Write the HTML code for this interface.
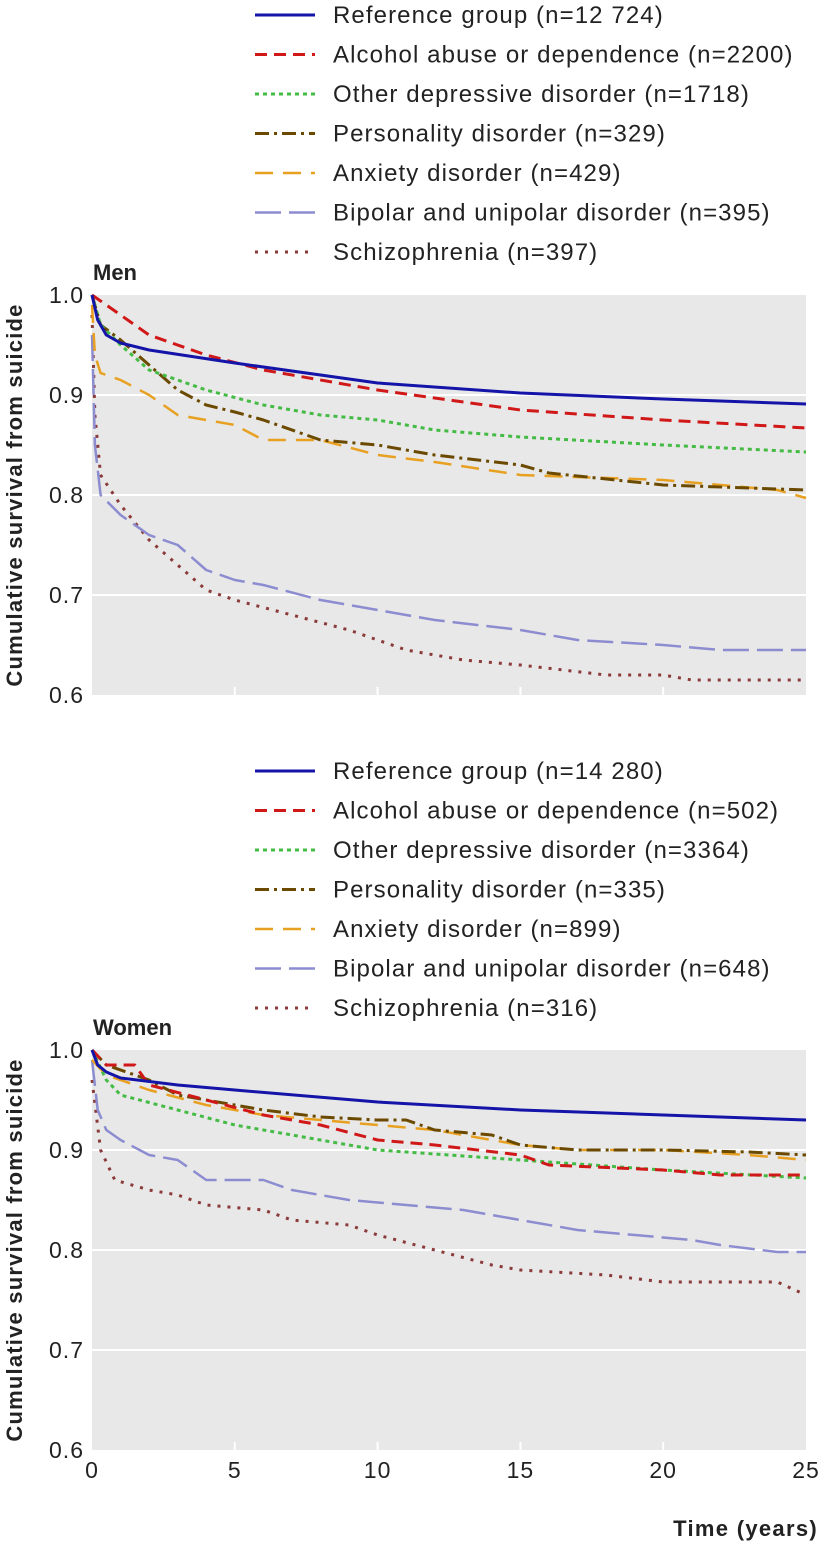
<!DOCTYPE html>
<html><head><meta charset="utf-8"><style>
html,body{margin:0;padding:0;background:#fff;}
svg text{font-family:"Liberation Sans",sans-serif;}
</style></head><body>
<svg id="chart" width="824" height="1544" viewBox="0 0 824 1544" xmlns="http://www.w3.org/2000/svg"></svg>
<script>
const seriesNames=["Reference group","Alcohol abuse or dependence","Other depressive disorder","Personality disorder","Anxiety disorder","Bipolar and unipolar disorder","Schizophrenia"];
const menN=["12 724","2200","1718","329","429","395","397"];
const womenN=["14 280","502","3364","335","899","648","316"];
const xTicks=[0,5,10,15,20,25];
const yTicks=[0.6,0.7,0.8,0.9,1.0];
const menRefX=[0,0.2,0.5,1,2,5,10,15,20,25];
const menRefY=[1.0,0.975,0.96,0.952,0.945,0.932,0.912,0.902,0.896,0.891];
const menAlcX=[0,0.5,2,4,6,10,15,20,25];
const menAlcY=[1.0,0.99,0.96,0.94,0.925,0.905,0.885,0.875,0.867];
const menDepX=[0,0.3,1,2,4,6,8,10,12,15,20,25];
const menDepY=[1.0,0.97,0.95,0.925,0.905,0.89,0.88,0.875,0.865,0.858,0.85,0.843];
const menPerX=[0,0.3,1,2,3,4,5,6,8,10,12,15,16,20,25];
const menPerY=[1.0,0.97,0.955,0.93,0.905,0.89,0.883,0.875,0.855,0.85,0.84,0.83,0.822,0.81,0.805];
const menAnxX=[0,0.1,0.3,1,2,3,5,6,8,10,12,15,20,24,25];
const menAnxY=[0.99,0.94,0.922,0.915,0.9,0.88,0.87,0.855,0.855,0.84,0.833,0.82,0.815,0.805,0.797];
const menBipX=[0,0.1,0.3,1,2,3,4,5,6,8,10,12,15,17,20,22,25];
const menBipY=[0.96,0.85,0.8,0.78,0.76,0.75,0.725,0.715,0.71,0.695,0.685,0.675,0.665,0.655,0.65,0.645,0.645];
const menSchX=[0,0.1,0.3,1,2,3,4,5,7,9,11,13,15,18,20,21,25];
const menSchY=[0.98,0.88,0.82,0.79,0.755,0.73,0.705,0.695,0.68,0.665,0.645,0.635,0.63,0.62,0.62,0.615,0.615];
const womRefX=[0,0.2,0.5,1,3,5,10,15,20,25];
const womRefY=[1.0,0.985,0.978,0.972,0.965,0.96,0.948,0.94,0.935,0.93];
const womAlcX=[0,0.5,1.5,2,4,6,8,10,12,15,16,20,22,25];
const womAlcY=[1.0,0.985,0.985,0.965,0.95,0.935,0.925,0.91,0.905,0.895,0.885,0.88,0.875,0.875];
const womDepX=[0,0.5,1,3,5,8,10,15,20,25];
const womDepY=[1.0,0.97,0.955,0.94,0.925,0.91,0.9,0.89,0.88,0.872];
const womPerX=[0,0.5,2,3,5,6,8,10,11,12,14,15,17,20,23,25];
const womPerY=[1.0,0.985,0.97,0.955,0.945,0.94,0.933,0.93,0.93,0.92,0.915,0.905,0.9,0.9,0.898,0.895];
const womAnxX=[0,0.5,2,4,6,8,10,12,15,17,20,23,25];
const womAnxY=[0.99,0.975,0.96,0.945,0.935,0.93,0.925,0.92,0.905,0.9,0.9,0.895,0.89];
const womBipX=[0,0.2,0.5,1,2,3,4,6,7,8,9,11,13,15,17,19,21,22,24,25];
const womBipY=[0.99,0.94,0.92,0.91,0.895,0.89,0.87,0.87,0.86,0.855,0.85,0.845,0.84,0.83,0.82,0.815,0.81,0.805,0.798,0.798];
const womSchX=[0,0.3,0.8,2,3,4,6,7,9,10,12,14,15,18,20,24,25];
const womSchY=[0.97,0.9,0.87,0.86,0.855,0.845,0.84,0.83,0.825,0.815,0.8,0.785,0.78,0.775,0.768,0.768,0.755];

const styles=[
 {c:"#1414a8",d:"",w:3},
 {c:"#d01818",d:"12 7",w:3},
 {c:"#44bb44",d:"4 4",w:3},
 {c:"#6b4a00",d:"14 5 3 5",w:3},
 {c:"#e8a020",d:"18 10",w:2.5},
 {c:"#8c8cd0",d:"26 8",w:2.5},
 {c:"#8b3a3a",d:"3 7",w:3}
];
const svg=document.getElementById('chart');
const NS="http://www.w3.org/2000/svg";
function mk(tag,attrs,parent){const e=document.createElementNS(NS,tag);for(const k in attrs)e.setAttribute(k,attrs[k]);(parent||svg).appendChild(e);return e;}
const X0=92,X1=806;
function sx(v){return X0+(v/25)*(X1-X0);}

function panel(title,top,legTop,ns,data,key){
  const g=mk('g',{});
  
  
  function sy(v){return top+(1.0-v)*1000;}
  for(let i=0;i<7;i++){
    const y=legTop+i*39.5;
    const lg=mk('g',{},g);
    
    
    mk('line',{x1:255,x2:315,y1:y,y2:y,stroke:styles[i].c,'stroke-width':styles[i].w,'stroke-dasharray':styles[i].d},lg);
    const t=mk('text',{x:333,y:y+8,'font-size':24,'letter-spacing':1.1,fill:'#222'},lg);
    t.textContent=seriesNames[i]+" (n="+ns[i]+")";
  }
  const tt=mk('text',{x:93,y:top-15,'font-size':22,'font-weight':'bold',fill:'#222'},g);
  
  
  tt.textContent=title;
  const bg=mk('rect',{x:X0,y:top,width:X1-X0,height:400,fill:'#e8e8e8'},g);
  
  
  yTicks.forEach(v=>{
    if(v>0.65&&v<0.95)mk('line',{x1:X0,x2:X1,y1:sy(v),y2:sy(v),stroke:'#fff','stroke-width':2},g);
    const t=mk('text',{x:84,y:sy(v)+8,'font-size':23,'letter-spacing':1,'text-anchor':'end',fill:'#222'},g);
    
    
    t.textContent=v.toFixed(1);
  });
  xTicks.forEach(v=>{
    if(v>0&&v<25)mk('line',{x1:sx(v),x2:sx(v),y1:top+392,y2:top+400,stroke:'#fff','stroke-width':2},g);
  });
  const yl=mk('text',{transform:`translate(22,${top+200}) rotate(-90)`,'font-size':22,'letter-spacing':1.2,'font-weight':'bold','text-anchor':'middle',fill:'#222'},g);
  
  
  yl.textContent="Cumulative survival from suicide";
  for(let i=6;i>=0;i--){
    const xs=data[i][0],ys=data[i][1];
    const pts=xs.map((x,j)=>sx(x).toFixed(1)+","+sy(ys[j]).toFixed(1)).join(" ");
    const p=mk('polyline',{points:pts,fill:'none',stroke:styles[i].c,'stroke-width':styles[i].w,'stroke-dasharray':styles[i].d,'stroke-linejoin':'round'},g);
    
    
  }
}
panel("Men",295,15,menN,[[menRefX,menRefY],[menAlcX,menAlcY],[menDepX,menDepY],[menPerX,menPerY],[menAnxX,menAnxY],[menBipX,menBipY],[menSchX,menSchY]],'men');
panel("Women",1050,771,womenN,[[womRefX,womRefY],[womAlcX,womAlcY],[womDepX,womDepY],[womPerX,womPerY],[womAnxX,womAnxY],[womBipX,womBipY],[womSchX,womSchY]],'women');
xTicks.forEach(v=>{
  const t=mk('text',{x:sx(v),y:1478,'font-size':23,'letter-spacing':1,'text-anchor':'middle',fill:'#222'});
  
  
  t.textContent=v;
});
const xt=mk('text',{x:818,y:1536,'font-size':22,'letter-spacing':1.3,'font-weight':'bold','text-anchor':'end',fill:'#222'});


xt.textContent="Time (years)";
</script>
</body></html>
